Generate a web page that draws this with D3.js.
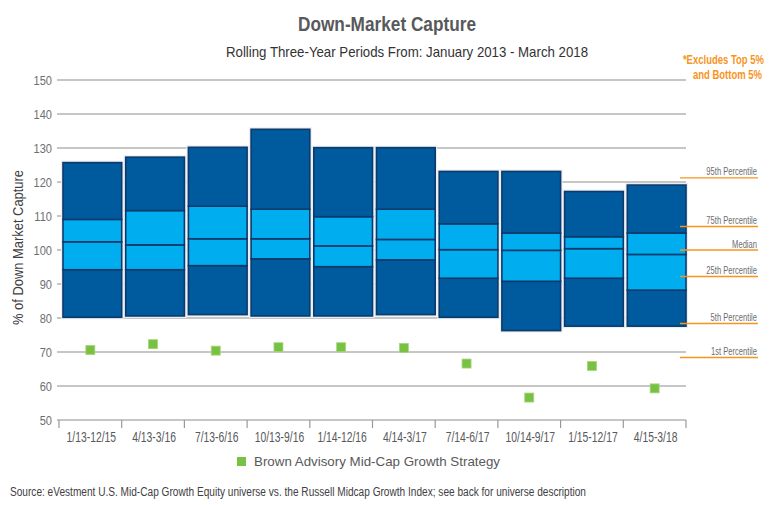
<!DOCTYPE html>
<html>
<head>
<meta charset="utf-8">
<script src="https://cdn.jsdelivr.net/npm/d3@7"></script>
<style>
  body { margin: 0; background: #fff; }
  text { font-family: "Liberation Sans", Arial, sans-serif; }
</style>
</head>
<body>
<div id="chart"></div>
<script>
const periods = ["1/13-12/15", "4/13-3/16", "7/13-6/16", "10/13-9/16", "1/14-12/16",
  "4/14-3/17", "7/14-6/17", "10/14-9/17", "1/15-12/17", "4/15-3/18"];
const p95 = [125.7, 127.3, 130.2, 135.5, 130.1, 130.1, 123.1, 123.1, 117.2, 119.1];
const p75 = [109.0, 111.6, 112.9, 112.0, 109.8, 112.0, 107.7, 105.0, 103.9, 105.0];
const median = [102.4, 101.5, 103.3, 103.3, 101.2, 103.1, 100.1, 99.9, 100.4, 98.7];
const p25 = [94.2, 94.2, 95.4, 97.4, 95.1, 97.1, 91.7, 90.8, 91.7, 88.2];
const p5 = [80.2, 80.6, 81.0, 80.6, 80.6, 81.0, 80.2, 76.3, 77.6, 77.6];
const strategy = [70.6, 72.3, 70.4, 71.4, 71.4, 71.2, 66.6, 56.6, 65.9, 59.3];
const yTicks = [50, 60, 70, 80, 90, 100, 110, 120, 130, 140, 150];
const pctLabels = ["95th Percentile", "75th Percentile", "Median", "25th Percentile", "5th Percentile", "1st Percentile"];
const pctLabelValues = [121.2, 106.9, 100, 92.2, 78.4, 68.4];

const width = 775, height = 505;
const darkBlue = "#005a9e", lightBlue = "#00aeef", edge = "#0d3a6b";
const green = "#79c143", orange = "#f7941d";

const svg = d3.select("#chart").append("svg")
  .attr("width", width).attr("height", height);

const x = d3.scaleBand().domain(periods).range([59, 686]).padding(0);
const y = d3.scaleLinear().domain([50, 150]).range([420, 80]);

// no condensed face installed, so squeeze text horizontally
const squeeze = (px, py, sx) => `translate(${px},${py}) scale(${sx},1)`;

// grid
svg.append("g")
  .selectAll("line")
  .data(yTicks)
  .join("line")
  .attr("x1", 57).attr("x2", 686)
  .attr("y1", (d) => y(d)).attr("y2", (d) => y(d))
  .attr("stroke", "#b3b3b3").attr("stroke-width", 1.3);

svg.append("g")
  .selectAll("text")
  .data(yTicks)
  .join("text")
  .attr("transform", (d) => squeeze(52, y(d), 0.82))
  .attr("dy", "0.35em")
  .attr("text-anchor", "end")
  .attr("font-size", 13.5)
  .attr("fill", "#6d6e71")
  .text((d) => d);

// x axis ticks at band edges
const edges = periods.map((p) => x(p)).concat([686]);
svg.append("g")
  .selectAll("line")
  .data(edges)
  .join("line")
  .attr("x1", (d) => d).attr("x2", (d) => d)
  .attr("y1", 420).attr("y2", 428)
  .attr("stroke", "#999").attr("stroke-width", 1.2);

svg.append("g")
  .selectAll("text")
  .data(periods)
  .join("text")
  .attr("transform", (d) => squeeze(x(d) + x.bandwidth() / 2 + 1, 442, 0.74))
  .attr("text-anchor", "middle")
  .attr("font-size", 14)
  .attr("fill", "#58595b")
  .text((d) => d);

// boxes
const rows = periods.map((p, i) => ({
  period: p,
  segs: [
    [p5[i], p25[i], darkBlue],
    [p25[i], median[i], lightBlue],
    [median[i], p75[i], lightBlue],
    [p75[i], p95[i], darkBlue],
  ],
  lo: p5[i], hi: p95[i],
}));

const barX = (d) => x(d.period) + 4;
const barW = x.bandwidth() - 4;

const box = svg.append("g")
  .selectAll("g")
  .data(rows)
  .join("g");

box.append("rect")
  .attr("x", barX).attr("width", barW)
  .attr("y", (d) => y(d.hi)).attr("height", (d) => y(d.lo) - y(d.hi))
  .attr("fill", "none").attr("stroke", "#e8eef5").attr("stroke-width", 4);

box.selectAll("rect.seg")
  .data((d) => d.segs.map((s) => ({ period: d.period, s })))
  .join("rect")
  .attr("class", "seg")
  .attr("x", barX).attr("width", barW)
  .attr("y", (d) => y(d.s[1]))
  .attr("height", (d) => y(d.s[0]) - y(d.s[1]))
  .attr("fill", (d) => d.s[2])
  .attr("stroke", edge).attr("stroke-width", 1.6);

// strategy squares
svg.append("g")
  .selectAll("rect")
  .data(strategy)
  .join("rect")
  .attr("x", (d, i) => x(periods[i]) + x.bandwidth() / 2 - 4.5)
  .attr("y", (d) => y(d) - 4.5)
  .attr("width", 9).attr("height", 9)
  .attr("fill", green).attr("stroke", "#a6d67c").attr("stroke-width", 0.8);

// percentile labels on right
const pl = svg.append("g")
  .selectAll("g")
  .data(pctLabels)
  .join("g");
pl.append("line")
  .attr("x1", 680).attr("x2", 758)
  .attr("y1", (d, i) => y(pctLabelValues[i]))
  .attr("y2", (d, i) => y(pctLabelValues[i]))
  .attr("stroke", orange).attr("stroke-width", 1.4);
pl.append("text")
  .attr("transform", (d, i) => squeeze(757, y(pctLabelValues[i]) - 2.5, 0.76))
  .attr("text-anchor", "end")
  .attr("font-size", 10)
  .attr("fill", "#6d6e71")
  .text((d) => d);

// titles
svg.append("text")
  .attr("x", 298).attr("y", 31)
  .attr("textLength", 178).attr("lengthAdjust", "spacingAndGlyphs")
  .attr("font-size", 21).attr("font-weight", "bold")
  .attr("fill", "#58595b")
  .text("Down-Market Capture");

svg.append("text")
  .attr("x", 226).attr("y", 57)
  .attr("textLength", 362).attr("lengthAdjust", "spacingAndGlyphs")
  .attr("font-size", 14.5)
  .attr("fill", "#333")
  .text("Rolling Three-Year Periods From: January 2013 - March 2018");

const note = svg.append("g")
  .attr("font-size", 12.5).attr("font-weight", "bold")
  .attr("fill", orange)
  .attr("text-anchor", "end");
note.append("text")
  .attr("transform", squeeze(764, 64, 0.76))
  .text("*Excludes Top 5%");
note.append("text")
  .attr("transform", squeeze(762, 79, 0.76))
  .text("and Bottom 5%");

svg.append("text")
  .attr("transform", "translate(23,325) rotate(-90)")
  .attr("textLength", 155).attr("lengthAdjust", "spacingAndGlyphs")
  .attr("font-size", 14.5)
  .attr("fill", "#414042")
  .text("% of Down Market Capture");

// legend
svg.append("rect")
  .attr("x", 237).attr("y", 457).attr("width", 9).attr("height", 9)
  .attr("fill", green);
svg.append("text")
  .attr("x", 254).attr("y", 466)
  .attr("textLength", 246).attr("lengthAdjust", "spacingAndGlyphs")
  .attr("font-size", 13.5)
  .attr("fill", "#58595b")
  .text("Brown Advisory Mid-Cap Growth Strategy");

svg.append("text")
  .attr("x", 10).attr("y", 496)
  .attr("textLength", 576).attr("lengthAdjust", "spacingAndGlyphs")
  .attr("font-size", 12.5)
  .attr("fill", "#414042")
  .text("Source: eVestment U.S. Mid-Cap Growth Equity universe vs. the Russell Midcap Growth Index; see back for universe description");
</script>
</body>
</html>
